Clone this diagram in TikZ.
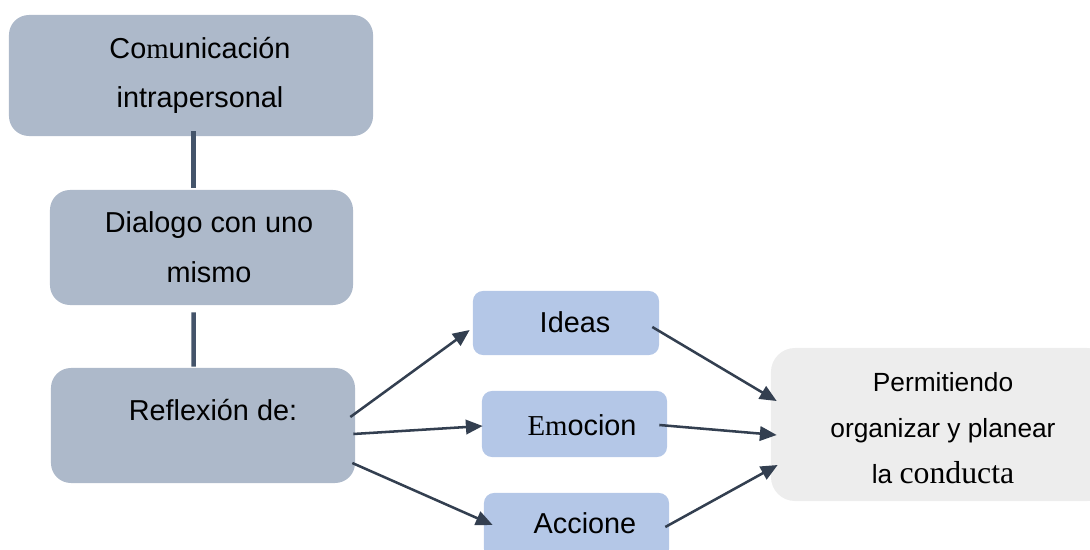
\documentclass[tikz,border=0pt]{standalone}
\usepackage{fontspec}
\setmainfont{Liberation Sans}
\newfontfamily\tnr{Liberation Serif}
\usetikzlibrary{arrows.meta,calc}

\definecolor{greyblue}{HTML}{ADB9CA}
\definecolor{lightblue}{HTML}{B4C7E7}
\definecolor{lightgrey}{HTML}{EDEDED}
\definecolor{slateline}{HTML}{44546A}
\definecolor{darkarrow}{HTML}{333F50}

\tikzset{
  greybox/.style={fill=greyblue, rounded corners=0.5cm, inner sep=0pt},
  bluebox/.style={fill=lightblue, rounded corners=0.25cm, inner sep=0pt},
  lightbox/.style={fill=lightgrey, rounded corners=0.6cm, inner sep=0pt},
  bigtext/.style={anchor=base, align=center, inner sep=0pt, font=\fontsize{20.5}{35.4}\selectfont},
  smalltext/.style={anchor=base, align=center, inner sep=0pt, font=\fontsize{18.7}{32.6}\selectfont},
  joinline/.style={slateline, line width=3.2pt},
  arrowline/.style={darkarrow, line width=1.8pt, -{Triangle[length=0.42cm, width=0.36cm]}}
}

\begin{document}
\begin{tikzpicture}[x=0.025cm, y=-0.025cm]
\useasboundingbox (0,0) rectangle (1090,550);

% Left column
\node[greybox, minimum width=9.1cm, minimum height=3.025cm] (com) at (191,75.5) {};
\node[bigtext] (comtxt) at (200,108) {Co{\tnr m}unicación\\intrapersonal};

\node[greybox, minimum width=7.575cm, minimum height=2.875cm] (dlg) at (201.5,247.5) {};
\node[bigtext] (dlgtxt) at (209,282) {Dialogo con uno\\mismo};

\node[greybox, minimum width=7.6cm, minimum height=2.875cm] (refl) at (203,425.5) {};
\node[bigtext] (refltxt) at (213,420) {Reflexión de:};

% Middle column
\node[bluebox, minimum width=4.65cm, minimum height=1.6cm] (ideas) at (566,323) {};
\node[bigtext] (ideastxt) at (575,332) {Ideas};

\node[bluebox, minimum width=4.625cm, minimum height=1.65cm] (emo) at (574.5,424) {};
\node[bigtext] (emotxt) at (582,435) {{\tnr Em}ocion};

\node[bluebox, minimum width=4.625cm, minimum height=1.65cm] (acc) at (576.5,526) {};
\node[bigtext] (acctxt) at (585,533) {Accione};

% Right box
\node[lightbox, minimum width=8.5cm, minimum height=3.825cm] (perm) at (941,424.5) {};
\node[smalltext] (permtxt) at (943,483) {Permitiendo\\organizar y planear\\la {\tnr\fontsize{22.6}{32.6}\selectfont conducta}};

% Vertical links
\draw[joinline] ($(com.south)+(2.5,-5)$) -- ($(dlg.north)+(-8,-2)$);
\draw[joinline] ($(dlg.south)+(-8,7)$) -- ($(refl.north)+(-9.5,-1)$);

% Arrows to the middle column
\draw[arrowline] ($(refl.east)+(-5,-8.5)$) -- ($(ideas.west)+(-3,7)$);
\draw[arrowline] ($(refl.east)+(-2,8.5)$) -- ($(emo.west)+(1,2)$);
\draw[arrowline] ($(refl.east)+(-3,37.5)$) -- ($(acc.west)+(9,-1)$);

% Arrows to the right box
\draw[arrowline] ($(ideas.east)+(-7,4)$) -- ($(perm.west)+(6,-23.5)$);
\draw[arrowline] ($(emo.east)+(-8,1)$) -- ($(perm.west)+(6,10.5)$);
\draw[arrowline] ($(acc.east)+(-4,1)$) -- ($(perm.west)+(7,40.5)$);
\end{tikzpicture}
\end{document}
